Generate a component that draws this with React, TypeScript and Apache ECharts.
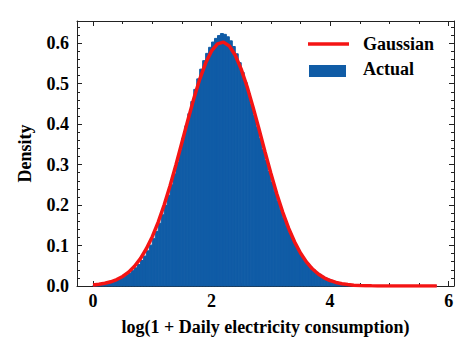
import React, { useEffect, useRef } from "react";
import * as echarts from "echarts";

// Histogram: bins of width 0.05 starting at 0
const binStart = 0;
const binWidth = 0.05;
const densities = [
  0.002, 0.003, 0.004, 0.005, 0.006, 0.008, 0.01, 0.012, 0.015, 0.018,
  0.022, 0.027, 0.032, 0.038, 0.045, 0.053, 0.063, 0.074, 0.087, 0.101,
  0.117, 0.135, 0.155, 0.176, 0.199, 0.224, 0.25, 0.277, 0.306, 0.336,
  0.366, 0.396, 0.426, 0.456, 0.486, 0.512, 0.536, 0.557, 0.575, 0.59,
  0.603, 0.612, 0.619, 0.624, 0.622, 0.616, 0.606, 0.592, 0.574, 0.552,
  0.528, 0.503, 0.476, 0.449, 0.421, 0.393, 0.365, 0.337, 0.31, 0.283,
  0.257, 0.233, 0.21, 0.188, 0.167, 0.148, 0.131, 0.115, 0.1, 0.087,
  0.075, 0.064, 0.055, 0.047, 0.04, 0.034, 0.029, 0.024, 0.02, 0.017,
  0.014, 0.011, 0.009, 0.007, 0.005, 0.004, 0.003, 0.002, 0.002, 0.001,
  0.001, 0.001, 0.001, 0.0008, 0.0006, 0.0005, 0.0004, 0.0004, 0.0003, 0.0003,
  0.0002, 0.0002, 0.0002, 0.0001, 0.0001, 0.0001, 0.0001, 0.0001, 0.0001, 0.0001,
  0.0001, 0.0001, 0.0001, 0.0001, 0.0001, 0.0001,
];

// Gaussian fit curve sampled every 0.1
const curveX = [
  0, 0.1, 0.2, 0.3, 0.4, 0.5, 0.6, 0.7, 0.8, 0.9,
  1.0, 1.1, 1.2, 1.3, 1.4, 1.5, 1.6, 1.7, 1.8, 1.9,
  2.0, 2.1, 2.2, 2.3, 2.4, 2.5, 2.6, 2.7, 2.8, 2.9,
  3.0, 3.1, 3.2, 3.3, 3.4, 3.5, 3.6, 3.7, 3.8, 3.9,
  4.0, 4.1, 4.2, 4.3, 4.4, 4.5, 4.6, 4.7, 4.8, 4.9,
  5.0, 5.1, 5.2, 5.3, 5.4, 5.5, 5.6, 5.7, 5.8,
];
const curveY = [
  0.0026, 0.0042, 0.0067, 0.0104, 0.0159, 0.0236, 0.0343, 0.0488, 0.0678, 0.092,
  0.1219, 0.1581, 0.2003, 0.2479, 0.2999, 0.3547, 0.4099, 0.4629, 0.5109, 0.5511,
  0.581, 0.5986, 0.6027, 0.5931, 0.5704, 0.5361, 0.4925, 0.4421, 0.3879, 0.3326,
  0.2787, 0.2282, 0.1827, 0.1429, 0.1092, 0.0816, 0.0596, 0.0425, 0.0297, 0.0202,
  0.0135, 0.0088, 0.0056, 0.0035, 0.0021, 0.0012, 0.0007, 0.0004, 0.0002, 0.0001,
  0.0001, 0, 0, 0, 0, 0, 0, 0, 0,
];

const seriesNames = ["Gaussian", "Actual"];
const xMajorTicks = [0, 2, 4, 6];
const xMinorTicks = [0.5, 1, 1.5, 2.5, 3, 3.5, 4.5, 5, 5.5];
const yMajorTicks = [0, 0.1, 0.2, 0.3, 0.4, 0.5, 0.6];
const yMinorTicks = [
  0.02, 0.04, 0.06, 0.08, 0.12, 0.14, 0.16, 0.18, 0.22, 0.24, 0.26, 0.28,
  0.32, 0.34, 0.36, 0.38, 0.42, 0.44, 0.46, 0.48, 0.52, 0.54, 0.56, 0.58,
  0.62, 0.64,
];

const X_MIN = -0.27;
const X_MAX = 6.09;
const Y_MIN = 0;
const Y_MAX = 0.655;

const BLUE = "#105ca6";
const RED = "#f41414";
const FONT = "Liberation Serif";
const AXIS_COLOR = "#222";

export default function App() {
  const ref = useRef<HTMLDivElement>(null);

  useEffect(() => {
    document.body.style.margin = "0";
    if (!ref.current) return;
    const chart = echarts.init(ref.current, undefined, { renderer: "svg" });

    const histData = densities.map((d, i) => [
      binStart + i * binWidth,
      binStart + (i + 1) * binWidth,
      d,
    ]);
    const lineData = curveX.map((x, i) => [x, curveY[i]]);

    const textStyle = {
      fontFamily: FONT,
      fontWeight: "bold" as const,
      fontSize: 18,
      color: "#000",
    };

    const xAxisBase = (position: string, major: boolean, showLine: boolean, showLabel: boolean) => ({
      type: "value",
      position,
      min: X_MIN,
      max: X_MAX,
      splitLine: { show: false },
      axisLine: { show: showLine, onZero: false, lineStyle: { color: AXIS_COLOR, width: 1 } },
      axisTick: {
        show: true,
        inside: true,
        length: major ? 5 : 3,
        customValues: major ? xMajorTicks : xMinorTicks,
        lineStyle: { color: AXIS_COLOR, width: 1 },
      },
      axisLabel: {
        show: showLabel,
        customValues: xMajorTicks,
        margin: 6,
        ...textStyle,
        formatter: (v: number) => String(Math.round(v)),
      },
    });

    const yAxisBase = (position: string, major: boolean, showLine: boolean, showLabel: boolean) => ({
      type: "value",
      position,
      min: Y_MIN,
      max: Y_MAX,
      splitLine: { show: false },
      axisLine: { show: showLine, onZero: false, lineStyle: { color: AXIS_COLOR, width: 1 } },
      axisTick: {
        show: true,
        inside: true,
        length: major ? 5 : 3,
        customValues: major ? yMajorTicks : yMinorTicks,
        lineStyle: { color: AXIS_COLOR, width: 1 },
      },
      axisLabel: {
        show: showLabel,
        customValues: yMajorTicks,
        margin: 8,
        ...textStyle,
        formatter: (v: number) => v.toFixed(1),
      },
    });

    const xBottom: any = xAxisBase("bottom", true, true, true);
    xBottom.name = "log(1 + Daily electricity consumption)";
    xBottom.nameLocation = "middle";
    xBottom.nameGap = 32;
    xBottom.nameTextStyle = textStyle;

    const yLeft: any = yAxisBase("left", true, true, true);
    yLeft.name = "Density";
    yLeft.nameLocation = "middle";
    yLeft.nameGap = 43;
    yLeft.nameTextStyle = textStyle;

    chart.setOption({
      animation: false,
      backgroundColor: "#fff",
      grid: { left: 77, top: 21, right: 20, bottom: 68, containLabel: false },
      graphic: [
        {
          type: "line",
          shape: { x1: 308, y1: 44, x2: 349, y2: 44 },
          style: { stroke: RED, lineWidth: 3.5 },
          z: 10,
        },
        {
          type: "text",
          x: 363,
          y: 43.5,
          style: { text: seriesNames[0], ...textStyle, fill: "#000", verticalAlign: "middle", align: "left" },
          z: 10,
        },
        {
          type: "rect",
          shape: { x: 309, y: 65, width: 37, height: 12 },
          style: { fill: BLUE },
          z: 10,
        },
        {
          type: "text",
          x: 363,
          y: 69,
          style: { text: seriesNames[1], ...textStyle, fill: "#000", verticalAlign: "middle", align: "left" },
          z: 10,
        },
      ],
      xAxis: [
        xBottom,
        xAxisBase("bottom", false, false, false),
        xAxisBase("top", true, true, false),
        xAxisBase("top", false, false, false),
      ],
      yAxis: [
        yLeft,
        yAxisBase("left", false, false, false),
        yAxisBase("right", true, true, false),
        yAxisBase("right", false, false, false),
      ],
      series: [
        {
          name: seriesNames[1],
          type: "custom",
          xAxisIndex: 0,
          yAxisIndex: 0,
          itemStyle: { color: BLUE },
          encode: { x: [0, 1], y: 2 },
          data: histData,
          renderItem: (params: any, api: any) => {
            const x0 = api.value(0);
            const x1 = api.value(1);
            const y = api.value(2);
            const p0 = api.coord([x0, y]);
            const p1 = api.coord([x1, 0]);
            return {
              type: "rect",
              shape: {
                x: p0[0],
                y: p0[1],
                width: p1[0] - p0[0],
                height: p1[1] - p0[1],
              },
              style: { fill: BLUE, stroke: BLUE, lineWidth: 1 },
            };
          },
          z: 2,
        },
        {
          name: seriesNames[0],
          type: "line",
          xAxisIndex: 0,
          yAxisIndex: 0,
          data: lineData,
          symbol: "none",
          showSymbol: false,
          smooth: false,
          itemStyle: { color: RED },
          lineStyle: { color: RED, width: 3.5 },
          z: 3,
        },
      ],
    });

    return () => chart.dispose();
  }, []);

  return <div ref={ref} style={{ width: 474, height: 354 }} />;
}
